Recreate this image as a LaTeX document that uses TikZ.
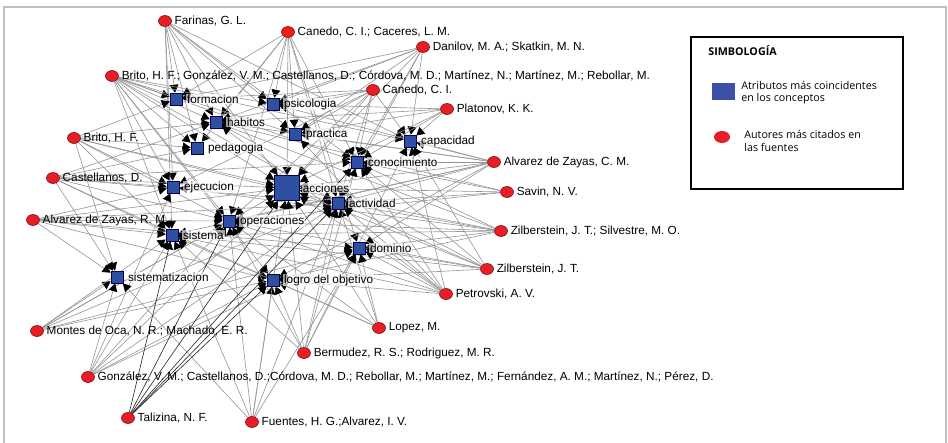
\documentclass[tikz,border=0pt]{standalone}
\usepackage{fontspec}
\setmainfont{Liberation Sans}
\newfontfamily\leyendafont{Open Sans}
\usepackage{tikz}
\usetikzlibrary{positioning, shapes.geometric, arrows.meta, backgrounds}
\definecolor{rojo}{RGB}{232,30,38}
\definecolor{azul}{RGB}{47,79,160}
\definecolor{azulleyenda}{RGB}{60,80,168}
\definecolor{gris}{RGB}{150,150,150}

\begin{document}
\begin{tikzpicture}[x=0.02cm, y=-0.02cm,
	autor/.style={ellipse, draw=red!45!black, line width=.3pt, fill=rojo, minimum width=.26cm, minimum height=.22cm, inner sep=0pt},
	concepto/.style={rectangle, draw=black!70!blue, line width=.4pt, fill=azul, minimum size=.24cm, inner sep=0pt},
	texto/.style={font=\fontsize{6.7}{8}\selectfont, inner sep=.5pt},
	textoconcepto/.style={texto, fill=white, fill opacity=.65, text opacity=1},
	arista/.style={draw=gris, line width=.35pt, -{Triangle[length=4.5pt, width=5pt, color=black]}},
	fuerte/.style={arista, draw=black!85},
	leyenda/.style={font=\leyendafont\fontsize{6.1}{7}\selectfont, align=left, inner sep=0pt}]
			\useasboundingbox	(0, 0) rectangle (948, 443);
			\draw	[black!25, line width=.8pt]	(4, 443) -- (4, 7) -- (946, 7) -- (946, 443);

			\foreach \n/\x/\y/\t in {formacion/176/99/formacion, psicologia/273/104/psicologia, habitos/216/122/habitos,
				practica/295/134/practica, pedagogia/197/148/pedagogia, capacidad/410/141/capacidad,
				conocimiento/357/162/conocimiento, ejecucion/173/187/ejecucion, actividad/338/203/actividad,
				operaciones/229/221/operaciones, sistema/172/235/sistema, dominio/359/248/dominio,
				sistematizacion/117/277/sistematizacion, logro/273/280/logro del objetivo}{
				\node	(\n)	at	(\x, \y)	[concepto]	{};
				\node	(\n-t)	[textoconcepto, right=2pt of \n]	{\t};
			}
			\node	(acciones)		at	(287, 188)	[concepto, minimum size=.5cm]	{};
			\node	(acciones-t)	[textoconcepto, right=1pt of acciones]	{acciones};

			\foreach \n/\x/\y/\t in {farinas/165/21/{Farinas, G. L.}, canedoCaceres/288/32/{Canedo, C. I.; Caceres, L. M.},
				danilov/423/47/{Danilov, M. A.; Skatkin, M. N.},
				britoGrupo/112/76/{Brito, H. F.; González, V. M.; Castellanos, D.; Córdova, M. D.; Martínez, N.; Martínez, M.; Rebollar, M.},
				canedo/373/90/{Canedo, C. I.}, platonov/447/109/{Platonov, K. K.}, brito/74/138/{Brito, H. F.},
				castellanos/53/178/{Castellanos, D.}, alvarezC/494/162/{Alvarez de Zayas, C. M.}, savin/507/192/{Savin, N. V.},
				alvarezR/33/220/{Alvarez de Zayas, R. M}, zilbersteinS/501/231/{Zilberstein, J. T.; Silvestre, M. O.},
				zilberstein/487/269/{Zilberstein, J. T.}, petrovski/446/294/{Petrovski, A. V.}, lopez/379/328/{Lopez, M.},
				montes/37/331/{Montes de Oca, N. R.; Machado, E. R.}, bermudez/304/353/{Bermudez, R. S.; Rodriguez, M. R.},
				gonzalez/88/377/{González, V. M.; Castellanos, D.;Córdova, M. D.; Rebollar, M.; Martínez, M.; Fernández, A. M.; Martínez, N.; Pérez, D.},
				talizina/128/418/{Talizina, N. F.}, fuentes/252/422/{Fuentes, H. G.;Alvarez, I. V.}}{
				\node	(\n)	at	(\x, \y)	[autor]	{};
				\node	(\n-t)	[texto, right=1pt of \n]	{\t};
			}

			\begin{scope}[on background layer]
				\foreach \a/\lista in {
					farinas/{formacion,habitos,pedagogia,ejecucion,acciones,practica,psicologia,conocimiento,capacidad,sistema},
					canedoCaceres/{psicologia,practica,acciones,habitos,formacion,conocimiento,actividad,pedagogia,operaciones,dominio},
					danilov/{capacidad,conocimiento,practica,psicologia,acciones,habitos,formacion,actividad},
					britoGrupo/{formacion,habitos,pedagogia,ejecucion,acciones,practica,psicologia,operaciones,sistema,actividad,conocimiento,capacidad,logro},
					canedo/{conocimiento,acciones,practica,psicologia,habitos,capacidad,actividad,operaciones,formacion,ejecucion},
					platonov/{capacidad,conocimiento,practica,psicologia,acciones,habitos},
					brito/{pedagogia,ejecucion,acciones,sistema,operaciones,habitos,formacion,sistematizacion,actividad},
					castellanos/{ejecucion,acciones,sistema,operaciones,sistematizacion,actividad,conocimiento,logro,habitos,pedagogia},
					alvarezC/{capacidad,conocimiento,acciones,actividad,practica,psicologia,dominio,operaciones,habitos,sistema,logro},
					savin/{actividad,acciones,conocimiento,operaciones,habitos},
					alvarezR/{sistema,sistematizacion,operaciones,acciones,ejecucion,actividad,logro,dominio},
					zilbersteinS/{actividad,acciones,dominio,conocimiento,operaciones,logro,sistema,habitos,ejecucion},
					zilberstein/{actividad,dominio,acciones,conocimiento,operaciones,logro,sistema,habitos,capacidad},
					petrovski/{actividad,dominio,acciones,operaciones,habitos,logro,conocimiento,capacidad,sistema,practica},
					lopez/{dominio,actividad,acciones,logro,operaciones,sistema},
					montes/{sistematizacion,sistema,operaciones,logro,acciones,actividad,dominio},
					bermudez/{logro,dominio,actividad,acciones,operaciones,sistema,conocimiento,capacidad},
					gonzalez/{sistematizacion,sistema,operaciones,logro,acciones,actividad,ejecucion,dominio},
					fuentes/{logro,dominio,actividad,acciones,operaciones,sistema,sistematizacion}}
					\foreach \c in \lista
						\draw	[arista]	(\a) -- (\c);
				\foreach \c in {sistema,acciones,actividad,conocimiento,operaciones,logro}
					\draw	[fuerte]	(talizina) -- (\c);
			\end{scope}

			\node	(leyenda)		at	(797, 113)	[draw, line width=1.1pt, minimum width=4.24cm, minimum height=3.04cm]	{};
			\node	(simbologia)	at	(708, 51)	[leyenda, anchor=west, font=\leyendafont\bfseries\fontsize{6.1}{7}\selectfont]	{SIMBOLOG\'IA};
			\node	(cuadro)		at	(723.5, 91.5)	[fill=azulleyenda, minimum width=.46cm, minimum height=.34cm, inner sep=0pt]	{};
			\node	(cuadro-t)		at	(741, 93)	[leyenda, anchor=west]	{Atributos más coincidentes\\en los conceptos};
			\node	(punto)			at	(722, 137)	[ellipse, fill=rojo, minimum width=.32cm, minimum height=.24cm, inner sep=0pt]	{};
			\node	(punto-t)		at	(744, 141)	[leyenda, anchor=west]	{Autores más citados en\\las fuentes};
		\end{tikzpicture}
\end{document}
